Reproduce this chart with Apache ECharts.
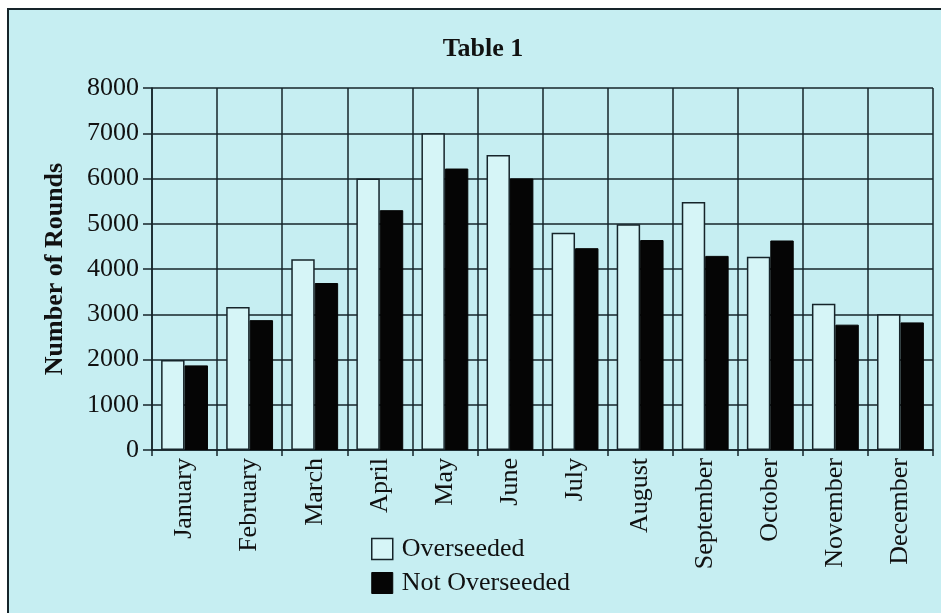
<!DOCTYPE html>
<html>
<head>
<meta charset="utf-8">
<style>
  html, body { margin: 0; padding: 0; background: #ffffff; }
  #chart { width: 941px; height: 613px; }
</style>
<script src="https://cdn.jsdelivr.net/npm/echarts@6/dist/echarts.min.js"></script>
</head>
<body>
<div id="chart"></div>
<script>
// Monthly rounds played, overseeded vs. not overseeded courses
const months = ['January', 'February', 'March', 'April', 'May', 'June',
  'July', 'August', 'September', 'October', 'November', 'December'];
const overseeded = [1990, 3160, 4215, 6000, 7000, 6520, 4800, 4990, 5480, 4270, 3230, 3000];
const notOverseeded = [1870, 2870, 3690, 5300, 6220, 6000, 4460, 4640, 4290, 4630, 2770, 2820];
const yTicks = [0, 1000, 2000, 3000, 4000, 5000, 6000, 7000, 8000];

const FONT = '"Liberation Serif", "DejaVu Serif", serif';
const INK = '#16242a';
const PANEL = '#c6eef2';
const LIGHT = '#d6f5f7';

const chart = echarts.init(document.getElementById('chart'), null, { renderer: 'canvas' });

chart.setOption({
  backgroundColor: '#ffffff',
  animation: false,
  graphic: [{
    type: 'rect',
    z: -10,
    shape: { x: 8, y: 9, width: 1200, height: 900 },
    style: { fill: PANEL, stroke: INK, lineWidth: 2 }
  }],
  title: {
    text: 'Table 1',
    left: 478,
    top: 31,
    textAlign: 'center',
    textStyle: { fontFamily: FONT, fontWeight: 'bold', fontSize: 26, color: '#111' }
  },
  legend: {
    orient: 'vertical',
    left: 371,
    top: 536,
    padding: 0,
    itemWidth: 21,
    itemHeight: 21,
    itemGap: 8,
    icon: 'rect',
    textStyle: { fontFamily: FONT, fontSize: 26, color: '#111', padding: [0, 0, 0, 4] },
    data: [
      { name: 'Overseeded', itemStyle: { color: LIGHT, borderColor: INK, borderWidth: 1.5 } },
      { name: 'Not Overseeded', itemStyle: { color: '#050505', borderColor: '#050505', borderWidth: 1 } }
    ]
  },
  grid: { left: 152, right: 8, top: 88, bottom: 163, containLabel: false },
  xAxis: {
    type: 'category',
    data: months,
    boundaryGap: true,
    axisLine: { lineStyle: { color: INK, width: 1.5 } },
    axisTick: { show: true, length: 6, lineStyle: { color: INK, width: 1.5 } },
    splitLine: { show: true, lineStyle: { color: INK, width: 1.5 } },
    axisLabel: {
      rotate: 90,
      margin: 8,
      fontFamily: FONT,
      fontSize: 26,
      color: '#111',
      interval: 0
    }
  },
  yAxis: {
    type: 'value',
    min: yTicks[0],
    max: yTicks[yTicks.length - 1],
    interval: yTicks[1] - yTicks[0],
    name: 'Number of Rounds',
    nameLocation: 'middle',
    nameGap: 84,
    nameTextStyle: { fontFamily: FONT, fontWeight: 'bold', fontSize: 26, color: '#111' },
    axisLine: { show: true, lineStyle: { color: INK, width: 1.5 } },
    axisTick: { show: true, length: 9, lineStyle: { color: INK, width: 1.5 } },
    splitLine: { show: true, lineStyle: { color: INK, width: 1.5 } },
    axisLabel: {
      fontFamily: FONT, fontSize: 26, color: '#111', margin: 13,
      formatter: v => String(v)
    }
  },
  series: [
    {
      name: 'Overseeded',
      type: 'bar',
      data: overseeded,
      barGap: '0%',
      barCategoryGap: '28%',
      itemStyle: { color: LIGHT, borderColor: INK, borderWidth: 1.5 }
    },
    {
      name: 'Not Overseeded',
      type: 'bar',
      data: notOverseeded,
      itemStyle: { color: '#050505', borderColor: '#050505', borderWidth: 1 }
    }
  ]
});
</script>
</body>
</html>
